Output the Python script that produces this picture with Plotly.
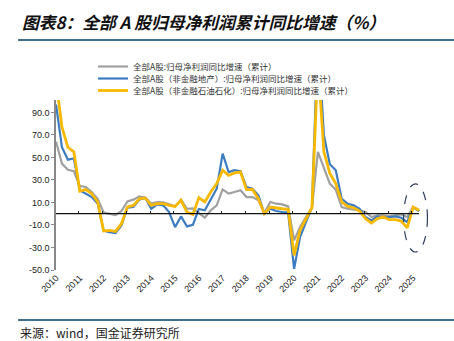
import plotly.graph_objects as go

years = [str(y) for y in range(2010, 2026)]
quarters = [f"{y}Q{q}" for y in range(2010, 2026) for q in range(1, 5)][:62]

all_a = [64, 44.5, 39, 37.7, 24.6, 23.7, 19.3, 13.3, 1, 0, -1.2, 2.4, 11, 12.5, 15.4, 14.2,
         9, 10.4, 10, 8.3, 6.5, 12.5, 4.4, 4.7, 0.6, -3.5, 3, 7.4, 21.6, 17.8, 19.3, 20.8,
         14.8, 14.8, 11.9, 0.6, 10.4, 8.9, 8.3, 6.5, -23.7, -11.9, -3, 5.3, 55, 41.5, 26.7, 21.4,
         5.9, 4.4, 3.6, 3, 1.5, -3, -1.5, -1.5, -2.4, -1.5, -0.6, -3, 5.9, 2.4]
nonfin_nonre = [97, 59, 48, 49, 20.8, 17.8, 14.8, 9, -15, -16.3, -17.2, -10.4, 5.3, 6, 12.5, 14.2,
                4.4, 8.3, 7.4, 1.5, -11.9, -2.4, -11.3, -9.8, 4.2, 3, 12.5, 22.2, 53.4, 37, 38.6, 37.7,
                23.7, 22.2, 16.3, 0, 4.4, 2.4, 1.5, 1.2, -49, -20.8, -7.4, 5.3, 160, 70, 44, 38.6,
                13.3, 8.9, 7.4, 4.4, -3, -5.9, -2.4, -3.6, -3, -2.4, -3.6, -7.4, 5.9, 2.4]
nonfin_nonpetro = [118, 77, 59, 55, 20, 21.4, 17.8, 10.4, -15.4, -14.8, -15.7, -8.9, 6, 7.4, 13.3, 14,
                   7.4, 9, 9, 7.4, 6.5, 11.9, 1.5, -0.6, 14.2, 10.4, 19.3, 26.7, 38.6, 34, 36.2, 37,
                   21.4, 21.6, 13.3, 0, 5.9, 5, 4.4, 3.9, -37, -14.8, -4.4, 5.3, 135, 55, 36, 26.7,
                   10.4, 6.5, 5.3, 2.4, -4.4, -8.3, -4.4, -3, -5.3, -5.3, -6.5, -12.5, 5.9, 3]

names = ["全部A股:归母净利润同比增速（累计）",
         "全部A股（非金融地产）:归母净利润同比增速（累计）",
         "全部A股（非金融石油石化）:归母净利润同比增速（累计）"]
colors = ["#a0a0a0", "#3d7cc0", "#f7b900"]
widths = [2.2, 2.2, 2.8]
legend_ids = ["legend", "legend2", "legend3"]
y_ticks = [90, 70, 50, 30, 10, -10, -30, -50]

x = list(range(len(quarters)))
fig = go.Figure()
for s, n, c, w, lg in zip([all_a, nonfin_nonre, nonfin_nonpetro], names, colors, widths, legend_ids):
    fig.add_trace(go.Scatter(x=x, y=s, mode="lines", name=n, legend=lg,
                             line=dict(color=c, width=w), cliponaxis=True))

# invisible trace to drive the bottom label axis
fig.add_trace(go.Scatter(x=[0, len(x) - 1], y=[None, None], xaxis="x2", showlegend=False,
                         hoverinfo="skip"))

YMIN, YMAX = -50, 101
XMAX = 63
zero_pos = (0 - YMIN) / (YMAX - YMIN)

leg_font = dict(family="Noto Sans CJK SC", size=8.5, color="#333333")
row_px = [66.5, 78.5, 90.5]
legends = {}
for lg, rp in zip(legend_ids, row_px):
    legends[lg] = dict(x=(93 - 56) / 375, y=(270 - rp) / 170, xanchor="left", yanchor="middle",
                       font=leg_font, bgcolor="rgba(0,0,0,0)", borderwidth=0)

fig.update_layout(
    width=454, height=341,
    margin=dict(l=56, r=23, t=100, b=71),
    paper_bgcolor="white", plot_bgcolor="white",
    font=dict(family="Arial, Liberation Sans, Noto Sans CJK SC", color="#333333", size=9),
    showlegend=True,
    **legends,
    xaxis=dict(range=[0, XMAX], anchor="free", position=zero_pos,
               showline=False, showgrid=False, zeroline=False,
               tickvals=[4 * k - 0.2 for k in range(1, 16)], ticks="inside",
               ticklen=3, tickcolor="#222222", showticklabels=False),
    xaxis2=dict(range=[0, XMAX], overlaying="x", anchor="y", side="bottom",
                showline=False, showgrid=False, zeroline=False,
                tickvals=[4 * k for k in range(len(years))], ticktext=years,
                tickangle=-45, ticks="", tickfont=dict(size=9, color="#222222")),
    yaxis=dict(range=[YMIN, YMAX], showgrid=False, zeroline=False,
               showline=True, linecolor="#888888", linewidth=1.5,
               tickvals=y_ticks, ticktext=[f"{v:.1f}" for v in y_ticks],
               ticks="outside", ticklen=3, tickcolor="#888888",
               tickfont=dict(size=9, color="#222222")),
)

# zero line spanning the data
fig.add_shape(type="line", xref="x", yref="y", x0=0, x1=len(x) - 1, y0=0, y1=0,
              line=dict(color="#111111", width=1.2), layer="above")
# dashed ellipse highlighting the latest quarters
fig.add_shape(type="circle", xref="x", yref="y", x0=58.4, x1=62.4, y0=-34, y1=26.5,
              line=dict(color="#2f3e5c", width=1.2, dash="dash"), layer="above")

# header / footer rules
fig.add_shape(type="line", xref="paper", yref="paper", x0=-0.101, x1=1.07,
              y0=(270 - 40) / 170, y1=(270 - 40) / 170,
              line=dict(color="#3f6f8f", width=2.2))
fig.add_shape(type="line", xref="paper", yref="paper", x0=-0.101, x1=1.07,
              y0=(270 - 320) / 170, y1=(270 - 320) / 170,
              line=dict(color="#3f6f8f", width=2))

fig.add_annotation(text="<b><i>图表8：全部 A 股归母净利润累计同比增速（%）</i></b>",
                   xref="paper", yref="paper", x=(20 - 56) / 375, y=(270 - 22) / 170,
                   xanchor="left", yanchor="middle", showarrow=False,
                   font=dict(family="Noto Sans CJK SC", size=16.8, color="#111111"))
fig.add_annotation(text="来源：wind，国金证券研究所",
                   xref="paper", yref="paper", x=(19 - 56) / 375, y=(270 - 332.5) / 170,
                   xanchor="left", yanchor="middle", showarrow=False, borderpad=0,
                   font=dict(family="Noto Sans CJK SC", size=12, color="#222222"))

fig.write_html("out.html")
